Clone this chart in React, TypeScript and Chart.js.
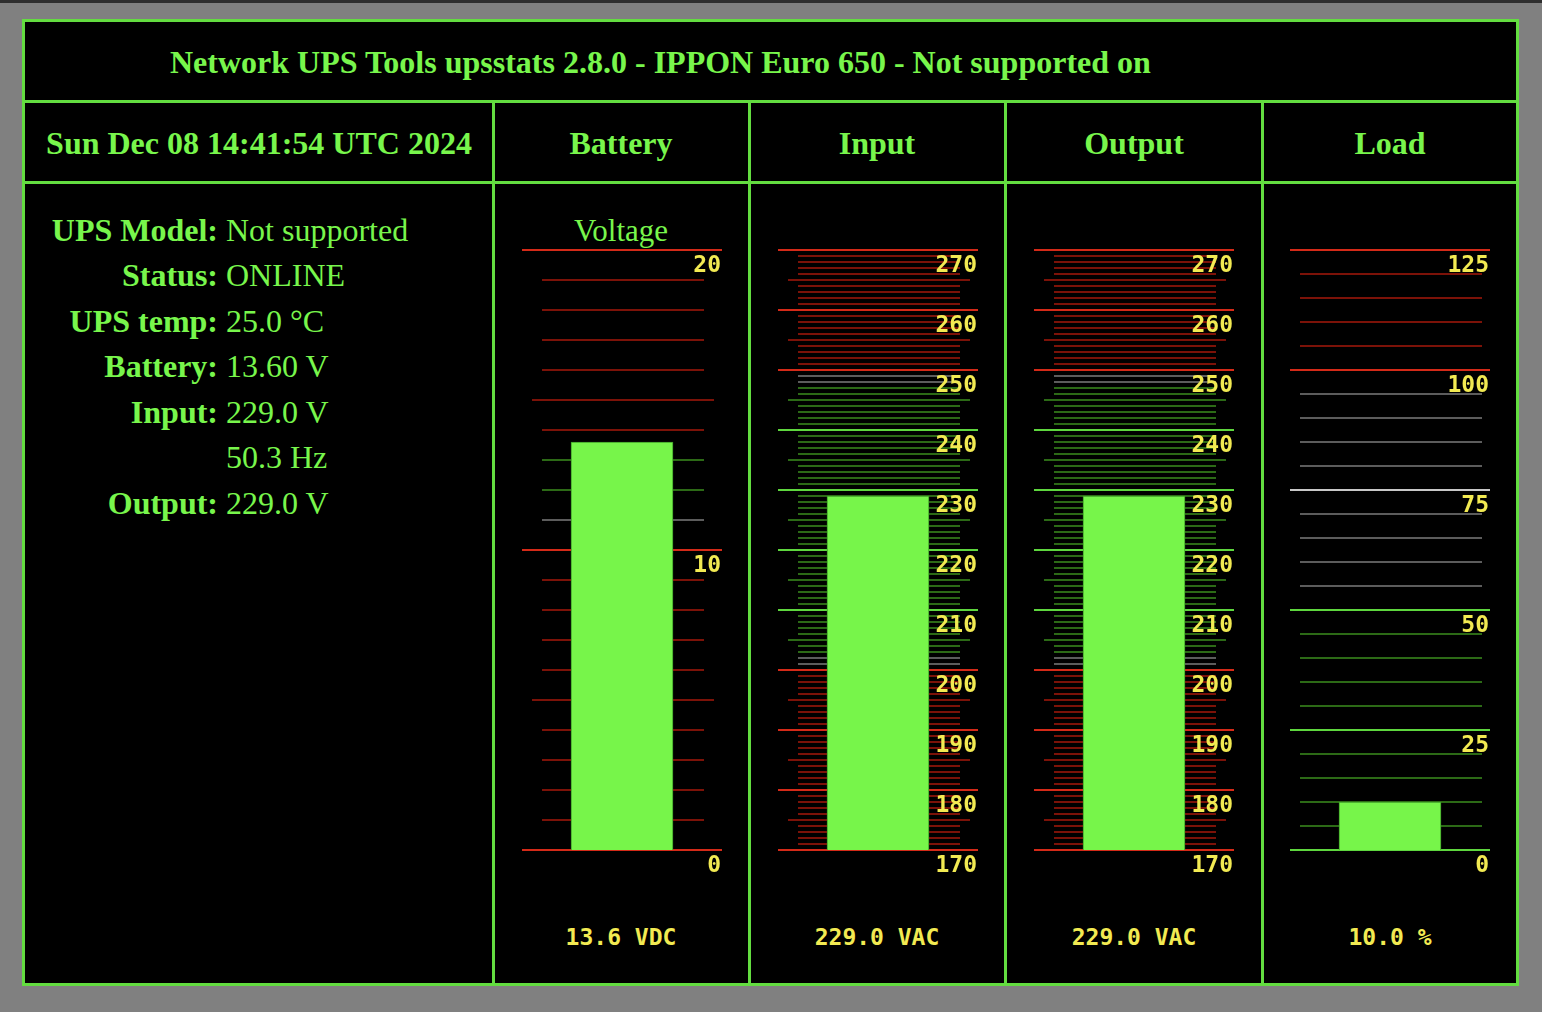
import React, { useEffect, useRef } from "react";
import { Chart, registerables } from "chart.js";

Chart.register(...registerables);

// ---------- data ----------
const headerTitle = "Network UPS Tools upsstats 2.8.0 - IPPON Euro 650 - Not supported on";
const headerDate = "Sun Dec 08 14:41:54 UTC 2024";
const infoLabels = ["UPS Model:", "Status:", "UPS temp:", "Battery:", "Input:", "", "Output:"];
const infoValues = ["Not supported", "ONLINE", "25.0 °C", "13.60 V", "229.0 V", "50.3 Hz", "229.0 V"];

const gaugeNames = ["Battery", "Input", "Output", "Load"];
const gaugeSubtitles = ["Voltage", "", "", ""];
const gaugeValues = [13.6, 229.0, 229.0, 10.0];
const gaugeMin = [0, 170, 170, 0];
const gaugeMax = [20, 270, 270, 125];
const gaugeMajorStep = [10, 10, 10, 25];
const gaugeMinorStep = [1, 1, 1, 5];
const gaugeMidStep = [5, 5, 5, 0];
const gaugeReadouts = ["13.6 VDC", "229.0 VAC", "229.0 VAC", "10.0 %"];

// colour zones: [from, to, zone]
const batteryZones: [number, number, string][] = [[0, 10.5, "red"], [10.5, 11.5, "gray"], [11.5, 13.5, "green"], [13.5, 20, "red"]];
const inputZones: [number, number, string][] = [[170, 200.5, "red"], [200.5, 202.5, "gray"], [202.5, 247.5, "green"], [247.5, 249.5, "gray"], [249.5, 270, "red"]];
const outputZones: [number, number, string][] = [[170, 200.5, "red"], [200.5, 202.5, "gray"], [202.5, 247.5, "green"], [247.5, 249.5, "gray"], [249.5, 270, "red"]];
const loadZones: [number, number, string][] = [[0, 50.5, "green"], [50.5, 99.5, "gray"], [99.5, 125, "red"]];
const gaugeZones = [batteryZones, inputZones, outputZones, loadZones];

// ---------- styles / layout ----------
const GREEN_TEXT = "#78F64C";
const BORDER = "#63DD40";
const YELLOW = "#F2EA52";
const zoneMajor: Record<string, string> = { red: "#D42A18", green: "#5ED63E", gray: "#C8C8C8" };
const zoneMinor: Record<string, string> = { red: "#7C1208", green: "#2C6A16", gray: "#5C5C5C" };
const gaugeLineLeft = [522, 778, 1034, 1290];
const gaugeMinorInset = [20, 20, 20, 10];
const gaugeMinorInsetR = [18, 18, 18, 8];
const colCenters = [621, 877, 1134, 1390];

const serif = '"Liberation Serif", "Times New Roman", serif';
const mono = '"DejaVu Sans Mono", monospace';

const gaugePlugin = {
  id: "gaugeScale",
  beforeDatasetsDraw(chart: any, _args: any, opts: any) {
    const i = opts.index;
    const y = chart.scales.y;
    const { left } = chart.chartArea;
    const ctx = chart.ctx;
    ctx.save();
    ctx.lineWidth = 2;
    const min = gaugeMin[i], max = gaugeMax[i], step = gaugeMinorStep[i];
    for (let v = min; v <= max + 1e-9; v += step) {
      const isMajor = Math.abs(v % gaugeMajorStep[i]) < 1e-6;
      const isMid = !isMajor && gaugeMidStep[i] > 0 && Math.abs(v % gaugeMidStep[i]) < 1e-6;
      const zone = gaugeZones[i].find((z) => v >= z[0] && v <= z[1]);
      const zn = zone ? zone[2] : "red";
      ctx.strokeStyle = isMajor ? zoneMajor[zn] : zoneMinor[zn];
      const inL = isMajor ? 0 : isMid ? 10 : gaugeMinorInset[i];
      const inR = isMajor ? 0 : isMid ? 8 : gaugeMinorInsetR[i];
      const py = Math.round(y.getPixelForValue(v));
      ctx.beginPath();
      ctx.moveTo(left + inL, py);
      ctx.lineTo(left + 200 - inR, py);
      ctx.stroke();
    }
    ctx.restore();
  },
  afterDatasetsDraw(chart: any, _args: any, opts: any) {
    const i = opts.index;
    const y = chart.scales.y;
    const { left } = chart.chartArea;
    const ctx = chart.ctx;
    ctx.save();
    ctx.font = `bold 23px ${mono}`;
    ctx.fillStyle = YELLOW;
    ctx.textAlign = "right";
    ctx.textBaseline = "alphabetic";
    for (let v = gaugeMin[i]; v <= gaugeMax[i] + 1e-9; v += gaugeMajorStep[i]) {
      const py = Math.round(y.getPixelForValue(v));
      ctx.fillText(String(v), left + 199, py + 22);
    }
    ctx.restore();
  },
};

function Gauge({ index }: { index: number }) {
  const ref = useRef<HTMLCanvasElement>(null);
  useEffect(() => {
    const chart = new Chart(ref.current as HTMLCanvasElement, {
      type: "bar",
      data: {
        labels: [gaugeNames[index]],
        datasets: [
          {
            data: [gaugeValues[index]],
            backgroundColor: "#77F54A",
            borderColor: "#3E9C28",
            borderWidth: 1,
            barThickness: 102,
          },
        ],
      },
      options: {
        responsive: false,
        animation: false,
        layout: { padding: { left: 10, right: 20, top: 10, bottom: 30 } },
        plugins: {
          legend: { display: false },
          title: { display: false },
          tooltip: { enabled: false },
          gaugeScale: { index },
        } as any,
        scales: {
          x: { display: false, grid: { display: false } },
          y: { display: false, min: gaugeMin[index], max: gaugeMax[index], grid: { display: false } },
        },
      },
      plugins: [gaugePlugin as any],
    });
    return () => chart.destroy();
  }, [index]);
  return (
    <canvas
      ref={ref}
      width={230}
      height={640}
      style={{ position: "absolute", left: gaugeLineLeft[index] - 10, top: 240, width: 230, height: 640 }}
    />
  );
}

function Txt(props: { x: number; base: number; children: any; align?: string; bold?: boolean; size?: number; color?: string; font?: string; w?: number }) {
  const size = props.size ?? 32;
  const w = props.w ?? 600;
  const align = props.align ?? "left";
  let left = props.x;
  if (align === "center") left = props.x - w / 2;
  if (align === "right") left = props.x - w;
  return (
    <div
      style={{
        position: "absolute",
        left,
        top: props.base - 33.3,
        width: w,
        height: 45,
        lineHeight: "45px",
        fontFamily: props.font ?? serif,
        fontSize: size,
        fontWeight: props.bold ? "bold" : "normal",
        color: props.color ?? GREEN_TEXT,
        textAlign: align as any,
        whiteSpace: "nowrap",
      }}
    >
      {props.children}
    </div>
  );
}

export default function App() {
  const vlines = [492, 748, 1004, 1261];
  return (
    <div style={{ position: "absolute", left: 0, top: 0, width: 1542, height: 1012, background: "#808080", overflow: "hidden" }}>
      <div style={{ position: "absolute", left: 0, top: 0, width: 1542, height: 3, background: "#2E2E2E" }} />
      <div
        style={{
          position: "absolute",
          left: 22,
          top: 19,
          width: 1491,
          height: 961,
          border: `3px solid ${BORDER}`,
          background: "#000",
        }}
      />
      <div style={{ position: "absolute", left: 22, top: 100, width: 1497, height: 3, background: BORDER }} />
      <div style={{ position: "absolute", left: 22, top: 181, width: 1497, height: 3, background: BORDER }} />
      {vlines.map((x) => (
        <div key={x} style={{ position: "absolute", left: x, top: 100, width: 3, height: 886, background: BORDER }} />
      ))}

      <Txt x={170} base={73} bold w={1200}>{headerTitle}</Txt>
      <Txt x={259} base={154.5} bold align="center">{headerDate}</Txt>
      {gaugeNames.map((n, i) => (
        <Txt key={n} x={colCenters[i]} base={154.5} bold align="center" w={250}>{n}</Txt>
      ))}

      {infoLabels.map((l, i) => (
        <Txt key={"l" + i} x={218} base={241 + 45.5 * i} bold align="right" w={200}>{l}</Txt>
      ))}
      {infoValues.map((v, i) => (
        <Txt key={"v" + i} x={226} base={241 + 45.5 * i} w={260}>{v}</Txt>
      ))}

      {gaugeSubtitles.map((s, i) =>
        s ? (
          <Txt key={"s" + i} x={colCenters[i]} base={241} align="center" w={250} size={31}>{s}</Txt>
        ) : null
      )}

      {gaugeNames.map((_, i) => (
        <Gauge key={"g" + i} index={i} />
      ))}

      {gaugeReadouts.map((r, i) => (
        <div
          key={"r" + i}
          style={{
            position: "absolute",
            left: colCenters[i] - 120,
            top: 922,
            width: 240,
            height: 30,
            lineHeight: "30px",
            fontFamily: mono,
            fontWeight: "bold",
            fontSize: 23,
            color: YELLOW,
            textAlign: "center",
            whiteSpace: "nowrap",
          }}
        >
          {r}
        </div>
      ))}
    </div>
  );
}
